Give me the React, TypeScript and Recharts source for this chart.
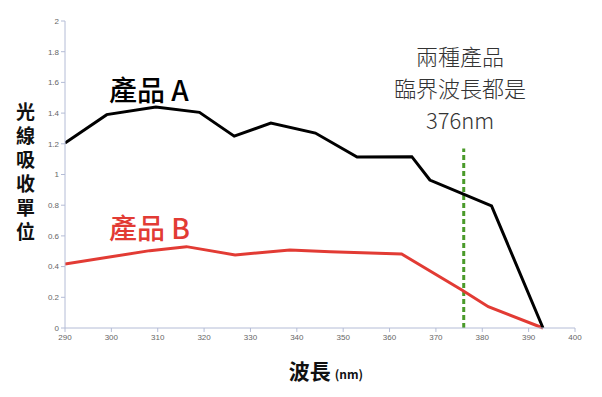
import { Line, LineChart, ReferenceLine, XAxis, YAxis } from "recharts"

// wavelength (nm) / absorbance
const productAWavelength = [290, 299, 309.6, 319, 326.5, 334.4, 344, 353, 364.8, 368.7, 382, 393.1]
const productAValue = [1.205, 1.39, 1.44, 1.405, 1.25, 1.335, 1.27, 1.114, 1.116, 0.964, 0.795, 0]

const productBWavelength = [290, 308.3, 316.2, 326.7, 338.5, 347.2, 362.6, 375.6, 381.3, 393.1]
const productBValue = [0.417, 0.504, 0.53, 0.476, 0.508, 0.497, 0.482, 0.248, 0.139, 0]

const xTicks = [290, 300, 310, 320, 330, 340, 350, 360, 370, 380, 390, 400]
const yTicks = [0, 0.2, 0.4, 0.6, 0.8, 1, 1.2, 1.4, 1.6, 1.8, 2]
const criticalWavelength = 376
const dashTop = 1.17

const yLabel = "光線吸收單位"
const noteLines = ["兩種產品", "臨界波長都是", "376nm"]

const seriesA = productAWavelength.map((x, i) => ({ x, y: productAValue[i] }))
const seriesB = productBWavelength.map((x, i) => ({ x, y: productBValue[i] }))

const cjk = '"Noto Sans CJK TC", "Noto Sans", sans-serif'
const tickStyle = { fontSize: 8, fill: "#666", fontFamily: '"Liberation Sans", Arial, sans-serif' }
const axisColor = "#b4bcd6"

export default function App() {
  return (
    <div
      style={{
        position: "fixed",
        top: 0,
        left: 0,
        width: 602,
        height: 397,
        background: "#fff",
        fontFamily: cjk,
      }}
    >
      <LineChart width={602} height={397} margin={{ top: 21, right: 27, left: 35, bottom: 39 }}>
        <XAxis
          type="number"
          dataKey="x"
          domain={[290, 400]}
          ticks={xTicks}
          allowDataOverflow
          stroke={axisColor}
          tick={tickStyle}
          tickSize={4}
          height={30}
        />
        <YAxis
          type="number"
          dataKey="y"
          domain={[0, 2]}
          ticks={yTicks}
          stroke={axisColor}
          tick={tickStyle}
          tickSize={4}
          width={30}
        />
        <ReferenceLine
          segment={[
            { x: criticalWavelength, y: 0 },
            { x: criticalWavelength, y: dashTop },
          ]}
          stroke="#4a9a2a"
          strokeWidth={3}
          strokeDasharray="5 3"
        />
        <Line
          data={seriesB}
          dataKey="y"
          type="linear"
          stroke="#e23b34"
          strokeWidth={3}
          dot={false}
          isAnimationActive={false}
        />
        <Line
          data={seriesA}
          dataKey="y"
          type="linear"
          stroke="#000"
          strokeWidth={3}
          dot={false}
          isAnimationActive={false}
        />
      </LineChart>

      <div
        style={{
          position: "absolute",
          left: 13,
          top: 102,
          width: 24,
          writingMode: "vertical-rl",
          fontSize: 19,
          letterSpacing: 5,
          lineHeight: "24px",
          fontWeight: 700,
          color: "#111",
        }}
      >
        {yLabel}
      </div>

      <div
        style={{
          position: "absolute",
          left: 0,
          width: 602,
          top: 355,
          textAlign: "center",
          paddingLeft: 50,
          boxSizing: "border-box",
          fontWeight: 700,
          color: "#111",
        }}
      >
        <span style={{ fontSize: 21 }}>波長</span>
        <span style={{ fontSize: 12, marginLeft: 4 }}>(nm)</span>
      </div>

      <div
        style={{
          position: "absolute",
          left: 109,
          top: 71,
          fontSize: 28,
          fontWeight: 500,
          color: "#000",
          lineHeight: "36px",
          whiteSpace: "pre",
        }}
      >
        產品 A
      </div>
      <div
        style={{
          position: "absolute",
          left: 109,
          top: 209,
          fontSize: 28,
          fontWeight: 500,
          color: "#e23b34",
          lineHeight: "36px",
          whiteSpace: "pre",
        }}
      >
        產品 B
      </div>

      <div
        style={{
          position: "absolute",
          left: 380,
          width: 160,
          top: 39,
          textAlign: "center",
          fontSize: 22,
          lineHeight: "32px",
          color: "#333",
          fontWeight: 300,
        }}
      >
        {noteLines.map((l) => (
          <div key={l}>{l}</div>
        ))}
      </div>
    </div>
  )
}
